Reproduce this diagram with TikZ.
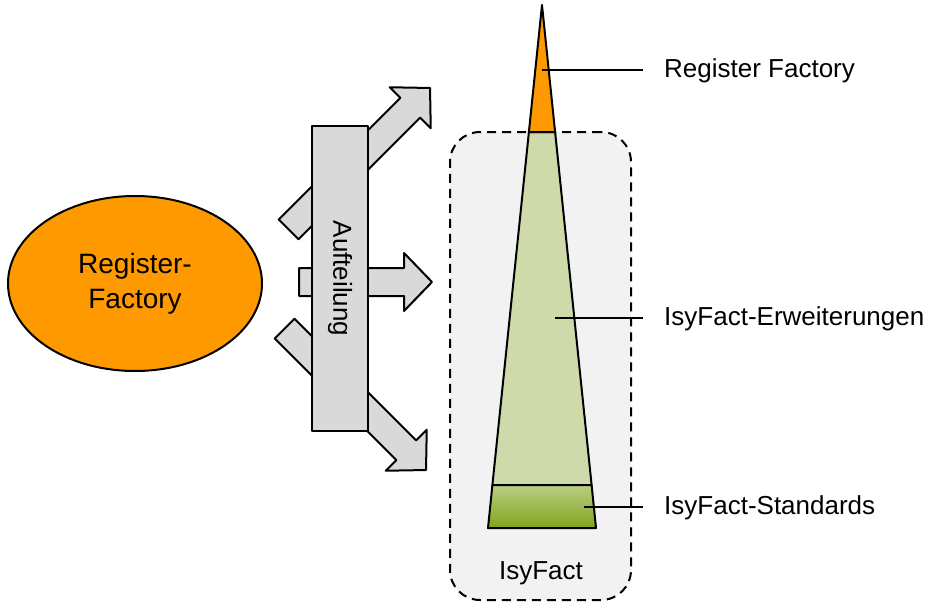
\documentclass[tikz,border=0pt]{standalone}
\usepackage{fontspec}
\setmainfont{Liberation Sans}
\usetikzlibrary{shapes.geometric}
\definecolor{rforange}{HTML}{FF9900}
\definecolor{hellgruen}{HTML}{CEDAAA}
\definecolor{gruenoben}{HTML}{BACE84}
\definecolor{gruenunten}{HTML}{82A41C}
\definecolor{kastengrau}{HTML}{F2F2F2}
\definecolor{pfeilgrau}{HTML}{D9D9D9}
\tikzset{pics/blockpfeil/.style={code={
	\draw[pfeil] (0,-14) -- ({#1-28},-14) -- ({#1-28},-29) -- (#1,0) -- ({#1-28},29) -- ({#1-28},14) -- (0,14) -- cycle;
}}}

\begin{document}
\begin{tikzpicture}[x=1pt,y=-1pt]
	\tikzstyle{linie}=[line width=2pt,line join=round]
	\tikzstyle{pfeil}=[linie,fill=pfeilgrau]
	\tikzstyle{lbl}=[font=\fontsize{26}{31}\selectfont,inner sep=0pt]
	\tikzstyle{kasten}=[draw,line width=2pt,dash pattern=on 9pt off 6pt,rounded corners=30pt,fill=kastengrau,minimum width=181pt,minimum height=468pt]
	\useasboundingbox (0,0) rectangle (950,602);
	% IsyFact-Kasten
	\node[kasten] (isy) at (540.5,366) {};
	\node[lbl] (isyname) at (541,573) {IsyFact};
	% Pyramide
	\coordinate (spitze) at (542,5);
	\coordinate (o1) at (528.9,132);
	\coordinate (o2) at (555.1,132);
	\coordinate (m1) at (492.4,485);
	\coordinate (m2) at (591.6,485);
	\coordinate (u1) at (488,528);
	\coordinate (u2) at (596,528);
	\draw[linie,fill=hellgruen] (o1) -- (o2) -- (m2) -- (m1) -- cycle;
	\draw[linie,top color=gruenoben,bottom color=gruenunten] (m1) -- (m2) -- (u2) -- (u1) -- cycle;
	\draw[linie,fill=rforange] (spitze) -- (o2) -- (o1) -- cycle;
	% Beschriftungen
	\coordinate (prf) at (542,70);
	\coordinate (perw) at (555,318);
	\coordinate (pstd) at (584,507);
	\node[lbl,anchor=west] (rf) at (664,71) {Register Factory};
	\node[lbl,anchor=west] (erw) at (664,319) {IsyFact-Erweiterungen};
	\node[lbl,anchor=west] (std) at (664,508) {IsyFact-Standards};
	\draw[linie,shorten >=21pt] (prf) -- (prf -| rf.west);
	\draw[linie,shorten >=21pt] (perw) -- (perw -| erw.west);
	\draw[linie,shorten >=21pt] (pstd) -- (pstd -| std.west);
	% Pfeile
	\pic[rotate=45] at (288.6,229.4) {blockpfeil=200};
	\pic at (299,282) {blockpfeil=133};
	\pic[rotate=-45] at (284.6,328.6) {blockpfeil=200};
	\node[linie,draw,fill=pfeilgrau,rotate=-90,minimum width=305pt,minimum height=56pt,font=\fontsize{26}{31}\selectfont] (auf) at (340,278.5) {Aufteilung};
	% Register-Factory
	\node[ellipse,linie,draw,fill=rforange,minimum width=254pt,minimum height=175pt,inner sep=0pt,align=center,font=\fontsize{28}{35}\selectfont] (rfac) at (135,283.5) {Register-\\Factory};
\end{tikzpicture}
\end{document}
